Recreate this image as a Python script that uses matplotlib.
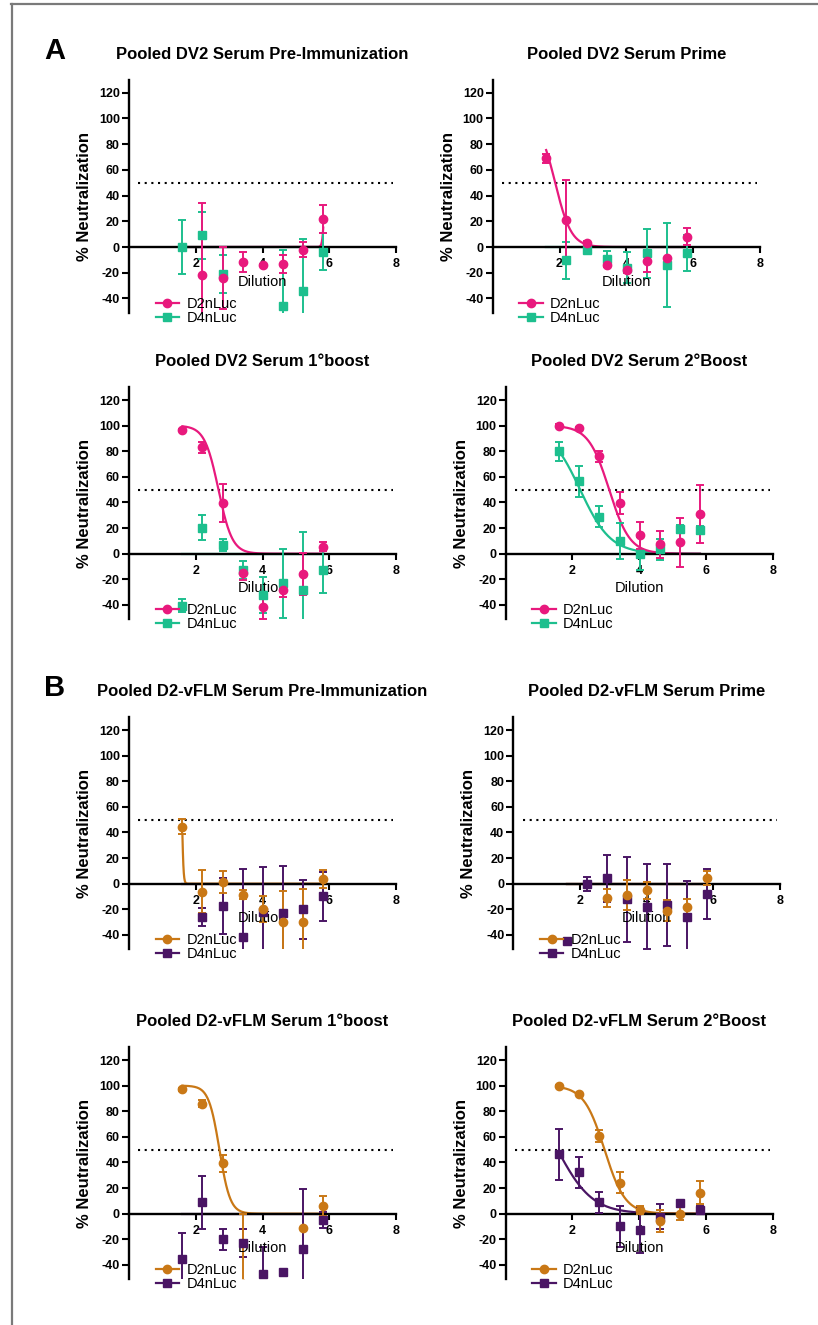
import numpy as np
import matplotlib
matplotlib.use("Agg")
import matplotlib.pyplot as plt
from matplotlib.lines import Line2D

plt.rcParams['font.family'] = ['Liberation Sans', 'DejaVu Sans']
plt.rcParams['axes.unicode_minus'] = False

nan = np.nan

# log10 dilution (4-fold series)
dilution = [1.60, 2.20, 2.81, 3.41, 4.01, 4.61, 5.21, 5.82]
threshold = 50

# ---- A: pooled DV2 serum ----
pre_dv2_d2 = [nan, -22, -24, -11.5, -14, -13, -2, 22]
pre_dv2_d2_err = [nan, 56, 24, 8, 0, 7, 6, 11]
pre_dv2_d4 = [0, 9, -21, nan, nan, -45.5, -34, -3.5]
pre_dv2_d4_err = [21, 18.5, 15, nan, nan, 43, 40, 14]

prime_dv2_d2 = [69, 20.7, 3, -13.7, -18, -11, -8.5, 8]
prime_dv2_d2_err = [3.5, 31.5, 1.5, 2, 2, 8.5, 0, 6.5]
prime_dv2_d4 = [nan, -10.3, -2, -9.3, -16, -5, -14, -5]
prime_dv2_d4_err = [nan, 14.5, 1.5, 6, 12, 19, 33, 14]

boost1_dv2_d2 = [96.6, 83, 39.8, -15.4, -42, -28, -16, 5.5]
boost1_dv2_d2_err = [1, 4, 15, 5, 9, 6, 16.5, 3.5]
boost1_dv2_d4 = [-40.6, 20.3, 6.8, -12.8, -32, -23, -28.4, -12.8]
boost1_dv2_d4_err = [5, 10, 4.5, 7, 14, 27, 45, 17.7]

boost2_dv2_d2 = [100, 98, 76, 39.3, 14.3, 7.3, 8.8, 31]
boost2_dv2_d2_err = [1, 1, 4.5, 8.6, 10.8, 10.4, 19, 23]
boost2_dv2_d4 = [80, 56.5, 29, 10, 0, 3.4, 19.5, 18.5]
boost2_dv2_d4_err = [7.5, 12, 8.5, 14, 13, 8, 3, 3]

# ---- B: pooled D2-vFLM serum ----
pre_flm_d2 = [44.5, -6.2, 1.6, -8.8, -19.8, -29.7, -30.2, 3.4]
pre_flm_d2_err = [6, 17, 8.5, 3.5, 10, 24, 26, 7]
pre_flm_d4 = [nan, -26.3, -17.4, -41.4, -22, -23, -20, -10]
pre_flm_d4_err = [nan, 7, 22, 53, 35, 37, 23, 19.5]

prime_flm_d2 = [nan, nan, -11, -8.8, -5.2, -21, -18.5, 4.2]
prime_flm_d2_err = [nan, nan, 7, 11.7, 6.5, 8.5, 6.5, 5.5]
prime_flm_d4 = [-45, 0, 4.2, -12.2, -18, -16.7, -25.8, -8]
prime_flm_d4_err = [0, 5.5, 18.5, 33, 33, 32, 28, 19.5]

boost1_flm_d2 = [97, 86, 39.3, -55, nan, nan, -11, 6.2]
boost1_flm_d2_err = [1, 3, 6.5, 55, nan, nan, 0, 8]
boost1_flm_d4 = [-35, 8.8, -20, -22.6, -47, -45.3, -27.8, -5]
boost1_flm_d4_err = [20, 20.5, 8, 11, 21, 0, 47, 6.5]

boost2_flm_d2 = [100, 93.4, 60.6, 24.2, 2.9, -5.7, 0, 16.4]
boost2_flm_d2_err = [0.5, 0.5, 4.6, 8, 3, 8.5, 5, 9]
boost2_flm_d4 = [46.3, 32.3, 8.8, -10, -12.8, -2.3, 8, 2.9]
boost2_flm_d4_err = [20, 12, 8, 16, 18, 10, 2, 3]

# fitted curves (top, logIC50, hill), bottom = 0
fit_pre_dv2 = [(100, 5.87, -15), (0, 4.0, 1)]
fit_prime_dv2 = [(100, 1.87, 1.8), (0, 4.0, 1)]
fit_boost1_dv2 = [(100, 2.68, 2.1), (0, 4.0, 1)]
fit_boost2_dv2 = [(100, 3.10, 1.4), (100, 2.23, 0.95)]
fit_pre_flm = [(100, 1.59, 20), (0, 4.0, 1)]
fit_prime_flm = [(0, 4.0, 1), (0, 4.0, 1)]
fit_boost1_flm = [(100, 2.71, 2.7), (0, 4.0, 1)]
fit_boost2_flm = [(100, 2.96, 1.4), (100, 1.55, 0.83)]

series_names = ['D2nLuc', 'D4nLuc']

titles = ['Pooled DV2 Serum Pre-Immunization', 'Pooled DV2 Serum Prime',
          'Pooled DV2 Serum 1°boost', 'Pooled DV2 Serum 2°Boost',
          'Pooled D2-vFLM Serum Pre-Immunization', 'Pooled D2-vFLM Serum Prime',
          'Pooled D2-vFLM Serum 1°boost', 'Pooled D2-vFLM Serum 2°Boost']

panels = [
    (pre_dv2_d2, pre_dv2_d2_err, pre_dv2_d4, pre_dv2_d4_err, fit_pre_dv2),
    (prime_dv2_d2, prime_dv2_d2_err, prime_dv2_d4, prime_dv2_d4_err, fit_prime_dv2),
    (boost1_dv2_d2, boost1_dv2_d2_err, boost1_dv2_d4, boost1_dv2_d4_err, fit_boost1_dv2),
    (boost2_dv2_d2, boost2_dv2_d2_err, boost2_dv2_d4, boost2_dv2_d4_err, fit_boost2_dv2),
    (pre_flm_d2, pre_flm_d2_err, pre_flm_d4, pre_flm_d4_err, fit_pre_flm),
    (prime_flm_d2, prime_flm_d2_err, prime_flm_d4, prime_flm_d4_err, fit_prime_flm),
    (boost1_flm_d2, boost1_flm_d2_err, boost1_flm_d4, boost1_flm_d4_err, fit_boost1_flm),
    (boost2_flm_d2, boost2_flm_d2_err, boost2_flm_d4, boost2_flm_d4_err, fit_boost2_flm),
]

colors_A = ['#E8197D', '#1DBF8E']
colors_B = ['#C97816', '#4A1564']

# axes boxes in pixels: left, top, right, bottom ; title baseline
boxes = [
    (129, 79.8, 396, 312.6, 59.3), (492.7, 79.8, 760, 312.6, 59.3),
    (129, 387.2, 396, 619, 366), (505.7, 387.2, 772.7, 619, 366),
    (129, 717.2, 396, 949, 696), (513.3, 717.2, 780, 949, 696),
    (129, 1047.2, 396, 1279, 1025.7), (505.7, 1047.2, 772.7, 1279, 1025.7),
]

W, H = 818, 1325
fig = plt.figure(figsize=(W / 100, H / 100), dpi=100)


def logistic(x, top, c, h):
    return top / (1 + 10 ** ((x - c) * h))


xfit = np.linspace(dilution[0], dilution[-1], 300)

for i, (box, panel, title) in enumerate(zip(boxes, panels, titles)):
    l, t, r, b, tb = box
    ax = fig.add_axes([l / W, 1 - b / H, (r - l) / W, (b - t) / H])
    cols = colors_A if i < 4 else colors_B
    d2, d2e, d4, d4e, fits = panel

    ax.axhline(threshold, xmin=0.035, xmax=0.99, color='black', lw=1.5,
               dashes=(1, 2.2), zorder=1)

    # D4 under D2
    for vals, errs, fit, col, mk, ms in [(d4, d4e, fits[1], cols[1], 's', 5.5),
                                         (d2, d2e, fits[0], cols[0], 'o', 6)]:
        ax.plot(xfit, logistic(xfit, *fit), color=col, lw=1.6, zorder=2)
        ax.errorbar(dilution, vals, yerr=errs, fmt=mk, color=col, ms=ms,
                    elinewidth=1.4, capsize=3.2, capthick=1.4, zorder=3)

    ax.set_xlim(0, 8)
    ax.set_ylim(-51, 130)
    ax.set_xticks([2, 4, 6, 8])
    ax.set_yticks(np.arange(-40, 121, 20))
    for s in ['top', 'right']:
        ax.spines[s].set_visible(False)
    ax.spines['bottom'].set_position(('data', 0))
    ax.spines['left'].set_linewidth(1.7)
    ax.spines['bottom'].set_linewidth(1.7)
    ax.tick_params(axis='y', direction='out', length=5, width=1.5, pad=1.5,
                   labelsize=9)
    ax.tick_params(axis='x', direction='out', length=4, width=1.5, pad=4,
                   labelsize=9)
    for lab in ax.get_xticklabels() + ax.get_yticklabels():
        lab.set_fontweight('bold')
    ax.patch.set_visible(False)

    ax.text(4, -27, 'Dilution', ha='center', va='center', fontsize=10.5)
    ax.text(-0.167, 0.5, '% Neutralization', rotation=90, ha='center',
            va='center', fontsize=12, fontweight='bold', transform=ax.transAxes)
    fig.text((l + r) / 2 / W, 1 - tb / H, title, ha='center', va='baseline',
             fontsize=12, fontweight='bold')

    handles = [Line2D([], [], color=cols[0], marker='o', ms=6, lw=1.6),
               Line2D([], [], color=cols[1], marker='s', ms=5.5, lw=1.6)]
    ax.legend(handles, series_names, loc='upper left',
              bbox_to_anchor=(0.10, 0.067), frameon=False, fontsize=10.5,
              handlelength=1.6, handletextpad=0.5, labelspacing=0.0,
              borderpad=0, borderaxespad=0)

fig.text(55 / W, 1 - 59.3 / H, 'A', ha='center', va='baseline', fontsize=21,
         fontweight='bold')
fig.text(55 / W, 1 - 696 / H, 'B', ha='center', va='baseline', fontsize=21,
         fontweight='bold')

gray = '#7a7a7a'
fig.add_artist(Line2D([10.5 / W, 1], [1 - 4 / H, 1 - 4 / H], color=gray, lw=1.6,
                      transform=fig.transFigure))
fig.add_artist(Line2D([11.5 / W, 11.5 / W], [0, 1 - 4 / H], color=gray, lw=1.6,
                      transform=fig.transFigure))

fig.savefig('out.png', dpi=100)
